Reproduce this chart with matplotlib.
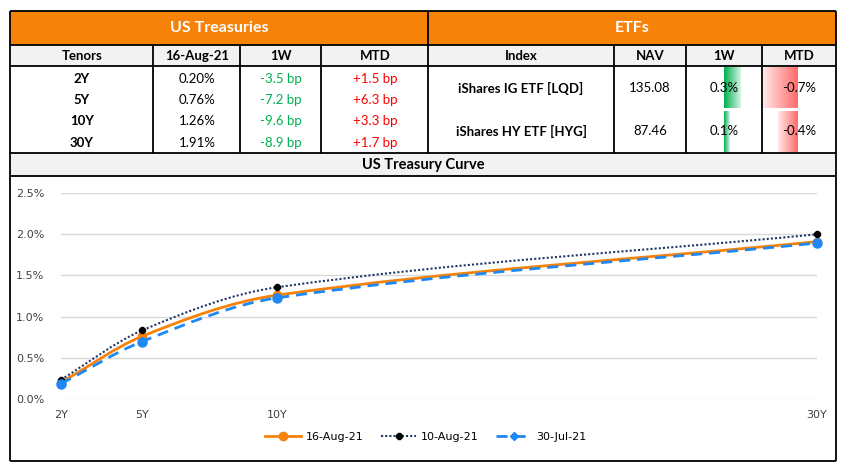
import numpy as np
import matplotlib
matplotlib.use("Agg")
import matplotlib.pyplot as plt
from matplotlib.path import Path
from matplotlib.patches import PathPatch, Rectangle
from matplotlib.lines import Line2D
from matplotlib.ticker import PercentFormatter

# ---- data ----
tenors = ["2Y", "5Y", "10Y", "30Y"]
tenor_years = [2, 5, 10, 30]
yld_16aug = [0.20, 0.76, 1.26, 1.91]
yld_10aug = [0.235, 0.832, 1.356, 1.999]
yld_30jul = [0.185, 0.697, 1.227, 1.893]
chg_1w = ["-3.5 bp", "-7.2 bp", "-9.6 bp", "-8.9 bp"]
chg_mtd = ["+1.5 bp", "+6.3 bp", "+3.3 bp", "+1.7 bp"]

etf_names = ["iShares IG ETF [LQD]", "iShares HY ETF [HYG]"]
etf_nav = [135.08, 87.46]
etf_1w = [0.3, 0.1]
etf_mtd = [-0.7, -0.4]

ORANGE = "#F7820A"
GRAY = "#F2F2F2"
GREEN = "#00B050"
RED = "#FF0000"
FONT = "Lato"

W, H = 846, 473
fig = plt.figure(figsize=(W / 100, H / 100), dpi=100)
bg = fig.add_axes([0, 0, 1, 1])
bg.set_axis_off()


def txt(x, y, s, size=10, bold=False, color="black", ha="center"):
    bg.text(x, y, s, fontsize=size, fontweight="bold" if bold else "normal",
            color=color, ha=ha, va="center", family=FONT)


def hline(y, x0, x1, lw=1.3):
    bg.plot([x0, x1], [y, y], color="black", lw=lw, solid_capstyle="butt")


def vline(x, y0, y1, lw=1.3):
    bg.plot([x, x], [y0, y1], color="black", lw=lw, solid_capstyle="butt")


# backgrounds
bg.add_patch(Rectangle((10, 11), 826, 34, color=ORANGE, lw=0))
bg.add_patch(Rectangle((10, 45), 826, 21, color=GRAY, lw=0))
bg.add_patch(Rectangle((10, 153), 826, 23, color=GRAY, lw=0))


# data bars with gradient (solid at the axis, fading outwards)
def grad_bar(x0, x1, y0, y1, color, reverse=False, fade=0.85):
    rgb = np.array(matplotlib.colors.to_rgb(color))
    t = np.linspace(0, fade, 64)
    if reverse:
        t = t[::-1]
    img = (1 - t)[None, :, None] * rgb[None, None, :] + t[None, :, None] * 1.0
    bg.imshow(np.clip(img, 0, 1), extent=[x0, x1, y1, y0], aspect="auto",
              interpolation="bilinear", zorder=1)


row_y = [(68, 108), (111, 152)]
axis_1w, px_1w = 724, 56.0   # px per 1%
axis_mtd, px_mtd = 797.7, 49.5
for i in range(2):
    y0, y1 = row_y[i]
    grad_bar(axis_1w, axis_1w + etf_1w[i] * px_1w, y0, y1, GREEN)
    grad_bar(axis_mtd + etf_mtd[i] * px_mtd, axis_mtd, y0, y1, "#FF6B6B", reverse=True)

# table borders
hline(11, 10, 836)
hline(45, 10, 836)
hline(66, 10, 836)
hline(153, 10, 836)
hline(176, 10, 836)
hline(461, 10, 836)
vline(10, 11, 461)
vline(836, 11, 461)
vline(428, 11, 153)
for x in [153, 240, 321]:
    vline(x, 45, 153)
for x in [614, 686, 762]:
    vline(x, 45, 153)

# headers
txt(219, 28, "US Treasuries", size=11.5, bold=True, color="white")
txt(632, 28, "ETFs", size=11.5, bold=True, color="white")
left_cols = [82, 197, 281, 375]
for x, s in zip(left_cols, ["Tenors", "16-Aug-21", "1W", "MTD"]):
    txt(x, 56, s, size=9.5, bold=True)
right_cols = [521, 650, 724, 799]
for x, s in zip(right_cols, ["Index", "NAV", "1W", "MTD"]):
    txt(x, 56, s, size=9.5, bold=True)

rows = [79, 100, 121, 143]
for i, y in enumerate(rows):
    txt(left_cols[0], y, tenors[i], size=9.5, bold=True)
    txt(left_cols[1], y, f"{yld_16aug[i]:.2f}%", size=9.5)
    txt(left_cols[2], y, chg_1w[i], size=9.5, color=GREEN)
    txt(left_cols[3], y, chg_mtd[i], size=9.5, color=RED)

for i, y in enumerate([88, 131]):
    txt(right_cols[0], y, etf_names[i], size=9.5, bold=True)
    txt(right_cols[1], y, f"{etf_nav[i]:.2f}", size=9.5)
    txt(right_cols[2], y, f"{etf_1w[i]:.1f}%", size=9.5)
    txt(right_cols[3], y, f"{etf_mtd[i]:.1f}%", size=9.5)

txt(423, 165, "US Treasury Curve", size=10.5, bold=True)

bg.set_xlim(0, W)
bg.set_ylim(H, 0)

# ---- chart ----
ax = fig.add_axes([61 / W, (H - 399) / H, (817 - 61) / W, (399 - 193) / H])
ax.set_xlim(2, 30)
ax.set_ylim(0, 2.5)
ax.set_yticks(np.arange(0, 2.51, 0.5))
ax.yaxis.set_major_formatter(PercentFormatter(decimals=1))
ax.set_xticks(tenor_years)
ax.set_xticklabels(tenors)
ax.grid(axis="y", color="#D9D9D9", lw=1)
ax.set_axisbelow(True)
for sp in ax.spines.values():
    sp.set_visible(False)
ax.tick_params(length=0, labelsize=8, colors="#404040")
ax.tick_params(axis="y", pad=12)
ax.tick_params(axis="x", pad=8)
ax.patch.set_alpha(0)


def smooth_path(xs, ys):
    # cubic hermite through the points, drawn as bezier segments
    xs = np.asarray(xs, float)
    ys = np.asarray(ys, float)
    n = len(xs)
    m = np.zeros(n)
    m[0] = (ys[1] - ys[0]) / (xs[1] - xs[0])
    m[-1] = (ys[-1] - ys[-2]) / (xs[-1] - xs[-2])
    for i in range(1, n - 1):
        m[i] = (ys[i + 1] - ys[i - 1]) / (xs[i + 1] - xs[i - 1])
    verts = [(xs[0], ys[0])]
    codes = [Path.MOVETO]
    for i in range(n - 1):
        dx = (xs[i + 1] - xs[i]) / 3
        verts += [(xs[i] + dx, ys[i] + m[i] * dx),
                  (xs[i + 1] - dx, ys[i + 1] - m[i + 1] * dx),
                  (xs[i + 1], ys[i + 1])]
        codes += [Path.CURVE4] * 3
    return Path(verts, codes)


series = [
    (yld_16aug, "16-Aug-21", ORANGE, "-", 2.0, "o", ORANGE, 6),
    (yld_10aug, "10-Aug-21", "#1F3864", (0, (1, 1)), 1.5, "8", "black", 5),
    (yld_30jul, "30-Jul-21", "#1E88F5", (0, (4, 2.5)), 2.0, "o", "#1E88F5", 6.5),
]
leg_marks = ["o", "8", "D"]
leg_sizes = [6, 5, 4.5]
handles = []
for k, (vals, lab, col, ls, lw, mk, mcol, ms) in enumerate(series):
    ax.add_patch(PathPatch(smooth_path(tenor_years, vals), fill=False, edgecolor=col,
                           lw=lw, ls=ls, zorder=3 + k))
    ax.plot(tenor_years, vals, ls="none", marker=mk, color=mcol, ms=ms, zorder=3 + k,
            clip_on=False)
    handles.append(Line2D([], [], color=col, ls=ls, lw=lw, marker=leg_marks[k],
                          markerfacecolor=mcol, markeredgecolor=mcol, ms=leg_sizes[k]))

fig.legend(handles=handles, labels=[s[1] for s in series], loc="center",
           bbox_to_anchor=(426 / W, (H - 437) / H), ncol=3, frameon=False,
           handlelength=3.2, columnspacing=1.6, handletextpad=0.4,
           prop={"family": "DejaVu Sans", "size": 8})

fig.savefig("out.png", dpi=100)
